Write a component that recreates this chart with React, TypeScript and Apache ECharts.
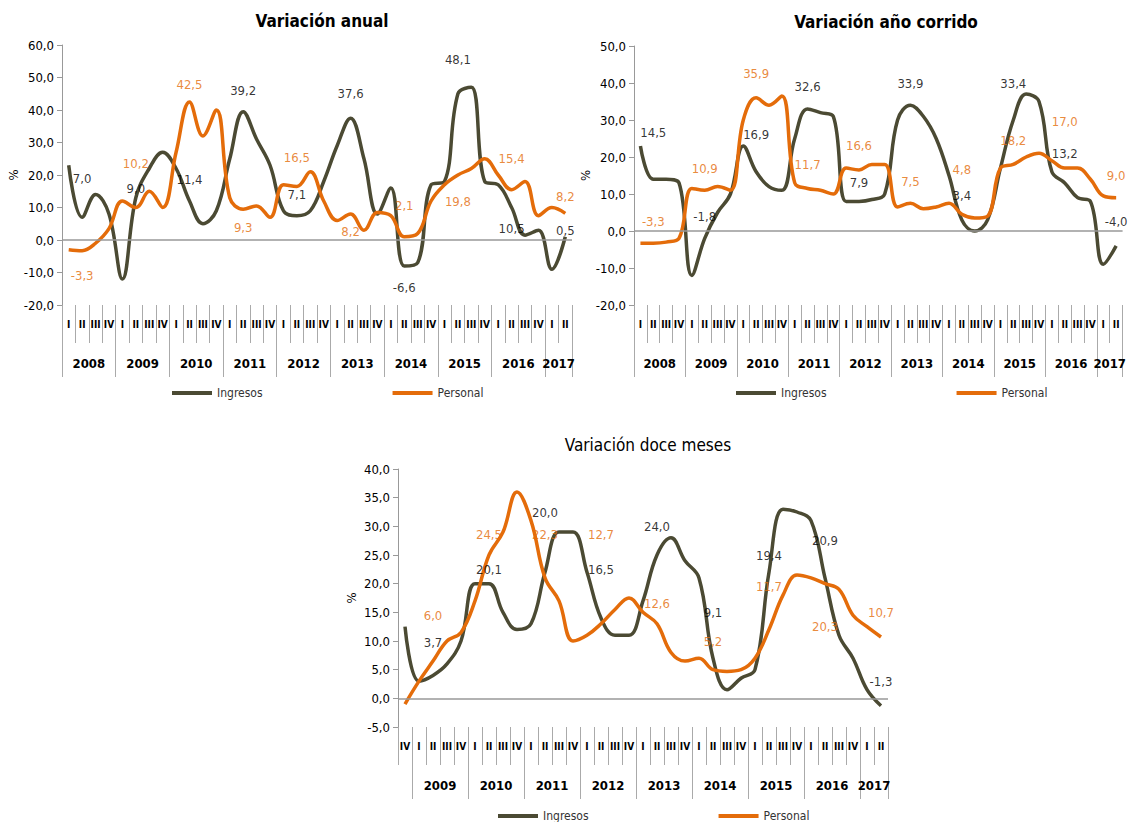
import React, { useEffect, useRef } from 'react';
import * as echarts from 'echarts';

const quarters38 = ['I', 'II', 'III', 'IV', 'I', 'II', 'III', 'IV', 'I', 'II', 'III', 'IV', 'I', 'II', 'III', 'IV', 'I', 'II', 'III', 'IV', 'I', 'II', 'III', 'IV', 'I', 'II', 'III', 'IV', 'I', 'II', 'III', 'IV', 'I', 'II', 'III', 'IV', 'I', 'II'];
const quarters35 = ['IV', ...quarters38.slice(4)];
const years = ['2008', '2009', '2010', '2011', '2012', '2013', '2014', '2015', '2016', '2017'];

// Variación anual
const anualIngresos = [23, 7, 14, 8, -12, 13, 22, 27, 22, 12, 5, 9, 25, 39.5, 31, 23, 9, 7.5, 9, 18, 29, 37.5, 25, 8, 16, -8, -7, 17, 18, 45, 47, 18, 17, 10, 1.5, 3, -9, 1];
const anualPersonal = [-3, -3.3, -1, 3.5, 12, 10, 15, 10, 27, 42.5, 32, 40, 13, 9.5, 10.5, 7, 17, 16.5, 21, 12, 6, 8, 3, 8.5, 7.5, 1, 2, 12, 17, 20, 22, 25, 20, 15.5, 18, 7.5, 10, 8.2];
const anualLabelsIng: [number, number, string][] = [[1, 19, '7,0'], [5, 16, '9,0'], [9, 18.5, '11,4'], [13, 46, '39,2'], [17, 14, '7,1'], [21, 45, '37,6'], [25, -14.5, '-6,6'], [29, 55.5, '48,1'], [33, 3.5, '10,5'], [37, 3, '0,5']];
const anualLabelsPer: [number, number, string][] = [[1, -11, '-3,3'], [5, 23.5, '10,2'], [9, 48, '42,5'], [13, 4, '9,3'], [17, 25.5, '16,5'], [21, 2.5, '8,2'], [25, 10.5, '2,1'], [29, 12, '19,8'], [33, 25, '15,4'], [37, 13.5, '8,2']];

// Variación año corrido
const corridoIngresos = [23, 14, 14, 13, -12, -2, 5, 10, 23, 16, 12, 11, 25, 33, 32, 31, 8, 8, 8.5, 10, 30, 34, 31, 25, 15, 3, 0, 3, 17, 30, 37, 35, 16, 13, 9, 8, -9, -4];
const corridoPersonal = [-3.3, -3.3, -3, -2, 11.5, 11, 12, 11, 30, 36, 34, 36.5, 13, 11.5, 11, 10, 17, 16.5, 18, 18, 6.5, 7.5, 6, 6.5, 7.5, 4.5, 3.5, 4, 17, 18, 20, 21, 19, 17, 17, 14, 9.5, 9];
const corridoLabelsIng: [number, number, string][] = [[1, 26.5, '14,5'], [5, 4, '-1,8'], [9, 26, '16,9'], [13, 39, '32,6'], [17, 13, '7,9'], [21, 40, '33,9'], [25, 9.5, '3,4'], [29, 40, '33,4'], [33, 21, '13,2'], [37, 2.5, '-4,0']];
const corridoLabelsPer: [number, number, string][] = [[1, 2.5, '-3,3'], [5, 17, '10,9'], [9, 42.5, '35,9'], [13, 18, '11,7'], [17, 23, '16,6'], [21, 13.5, '7,5'], [25, 16.5, '4,8'], [29, 24.5, '18,2'], [33, 29.5, '17,0'], [37, 15, '9,0']];

// Variación doce meses
const doceIngresos = [12.5, 3, 4, 6, 10, 20, 20, 15, 12, 13, 22, 29, 29, 22, 14, 11, 11, 17, 25, 28, 24, 21, 7, 1.5, 3.5, 5, 22, 33, 32.5, 31, 21, 11, 7, 1.5, -1.3];
const docePersonal = [-1, 3, 6.5, 10, 11.5, 17, 25, 29, 36, 31, 21, 17, 10, 11, 13, 15.5, 17.5, 15, 13, 8, 6.5, 7, 5, 4.7, 5, 7, 12, 18, 21.5, 21, 20, 19, 14.5, 12.5, 10.7];
const doceLabelsIng: [number, number, string][] = [[2, 9.8, '3,7'], [6, 22.5, '20,1'], [10, 32.5, '20,0'], [14, 22.5, '16,5'], [18, 30, '24,0'], [22, 15, '9,1'], [26, 25, '19,4'], [30, 27.5, '20,9'], [34, 3, '-1,3']];
const doceLabelsPer: [number, number, string][] = [[2, 14.5, '6,0'], [6, 28.5, '24,5'], [10, 28.5, '22,3'], [14, 28.5, '12,7'], [18, 16.5, '12,6'], [22, 10, '5,2'], [26, 19.5, '11,7'], [30, 12.5, '20,3'], [34, 15, '10,7']];

const ING = '#4b4a33';
const PER = '#e46c0a';
const FONT = "'Liberation Sans Narrow', 'DejaVu Sans Condensed', sans-serif";
const fmt = (v: number) => v.toFixed(1).replace('.', ',');

interface Panel {
  title: string;
  bold: boolean;
  grid: { left: number; top: number; width: number; height: number };
  quarters: string[];
  firstYear: number; // index of first quarter of first labelled year
  yMin: number;
  yMax: number;
  yStep: number;
  ing: number[];
  per: number[];
  labIng: [number, number, string][];
  labPer: [number, number, string][];
  legendTop: number;
}

const panels: Panel[] = [
  { title: 'Variación anual', bold: true, grid: { left: 62, top: 45, width: 510, height: 260 }, quarters: quarters38, firstYear: 0, yMin: -20, yMax: 60, yStep: 10, ing: anualIngresos, per: anualPersonal, labIng: anualLabelsIng, labPer: anualLabelsPer, legendTop: 382 },
  { title: 'Variación año corrido', bold: true, grid: { left: 634, top: 46, width: 494, height: 259 }, quarters: quarters38, firstYear: 0, yMin: -20, yMax: 50, yStep: 10, ing: corridoIngresos, per: corridoPersonal, labIng: corridoLabelsIng, labPer: corridoLabelsPer, legendTop: 382 },
  { title: 'Variación doce meses', bold: false, grid: { left: 398, top: 469, width: 490, height: 258 }, quarters: quarters35, firstYear: 1, yMin: -5, yMax: 40, yStep: 5, ing: doceIngresos, per: docePersonal, labIng: doceLabelsIng, labPer: doceLabelsPer, legendTop: 805 },
];

const App: React.FC = () => {
  const chartRef = useRef<HTMLDivElement>(null);

  useEffect(() => {
    if (!chartRef.current) return;
    const chart = echarts.init(chartRef.current, null, { renderer: 'svg' });

    const grid: any[] = [];
    const xAxis: any[] = [];
    const yAxis: any[] = [];
    const series: any[] = [];
    const title: any[] = [];
    const legend: any[] = [];

    panels.forEach((p, k) => {
      grid.push(p.grid);
      const n = p.quarters.length;
      const yearNames = p.firstYear === 0 ? years : years.slice(1);
      // year label centres in quarter units
      const centres: Record<number, string> = {};
      yearNames.forEach((y, j) => {
        const start = p.firstYear + j * 4;
        const len = Math.min(4, n - start);
        centres[start + len / 2] = y;
      });
      title.push({
        text: p.title,
        left: p.grid.left + p.grid.width / 2,
        top: p.grid.top - 38,
        textAlign: 'center',
        textStyle: { fontFamily: FONT, fontSize: 17, fontWeight: p.bold ? 'bold' : 'normal', color: '#000' },
      });
      legend.push({
        data: ['Ingresos', 'Personal'],
        left: p.grid.left + p.grid.width / 2 - 150,
        top: p.legendTop,
        itemGap: 130,
        itemWidth: 40,
        itemHeight: 4,
        icon: 'rect',
        textStyle: { fontFamily: FONT, fontSize: 12, color: '#333' },
      });
      const base = k * 3;
      xAxis.push({
        type: 'category', gridIndex: k, data: p.quarters, position: 'bottom',
        axisLine: { show: false, onZero: false },
        axisTick: { show: true, interval: 0, length: 38, lineStyle: { color: '#aaa' } },
        axisLabel: { interval: 0, fontFamily: FONT, fontSize: 10, fontWeight: 'bold', color: '#000', margin: 14 },
      });
      xAxis.push({
        type: 'category', gridIndex: k, data: p.quarters, position: 'bottom',
        axisLine: { show: false, onZero: false },
        axisTick: { show: true, interval: (i: number) => (i - p.firstYear) % 4 === 0 && i >= p.firstYear, length: 72, lineStyle: { color: '#aaa' } },
        axisLabel: { show: false },
      });
      xAxis.push({
        type: 'value', gridIndex: k, min: 0, max: n, interval: 0.5, position: 'bottom',
        axisLine: { show: false, onZero: false }, axisTick: { show: false }, splitLine: { show: false },
        axisLabel: {
          margin: 52, fontFamily: FONT, fontSize: 13, fontWeight: 'bold', color: '#000',
          showMinLabel: false, showMaxLabel: false,
          formatter: (v: number) => centres[v] ?? '',
        },
      });
      yAxis.push({
        type: 'value', gridIndex: k, min: p.yMin, max: p.yMax, interval: p.yStep,
        name: '%', nameLocation: 'middle', nameGap: 40, nameRotate: 90,
        nameTextStyle: { fontFamily: FONT, fontSize: 13, color: '#000' },
        axisLine: { show: true, lineStyle: { color: '#999' } },
        axisTick: { show: true, lineStyle: { color: '#999' } },
        splitLine: { show: false },
        axisLabel: { fontFamily: FONT, fontSize: 13, color: '#000', formatter: fmt },
      });
      const line = (name: string, data: number[], color: string, zero: boolean) => ({
        name, type: 'line', xAxisIndex: base, yAxisIndex: k, data, smooth: 0.4,
        showSymbol: false, symbol: 'none', lineStyle: { color, width: 3.5 }, itemStyle: { color },
        z: 3,
        markLine: zero ? { silent: true, symbol: 'none', label: { show: false }, lineStyle: { color: '#999', width: 1.5, type: 'solid' }, data: [{ yAxis: 0 }] } : undefined,
      });
      series.push(line('Ingresos', p.ing, ING, true));
      series.push(line('Personal', p.per, PER, false));
      const labels = (name: string, pts: [number, number, string][], color: string) => ({
        name, type: 'scatter', xAxisIndex: base, yAxisIndex: k, symbolSize: 0, z: 5,
        data: pts.map(([i, y, t]) => ({ value: [i, y], name: t })),
        label: { show: true, position: 'inside', formatter: (d: any) => d.name, fontFamily: FONT, fontSize: 13, color },
      });
      series.push(labels('labIng' + k, p.labIng, '#000'));
      series.push(labels('labPer' + k, p.labPer, PER));
    });

    chart.setOption({ animation: false, title, legend, grid, xAxis, yAxis, series });
    return () => chart.dispose();
  }, []);

  return <div ref={chartRef} style={{ position: 'absolute', left: 0, top: 0, width: 1129, height: 822, background: '#fff' }} />;
};

export default App;
